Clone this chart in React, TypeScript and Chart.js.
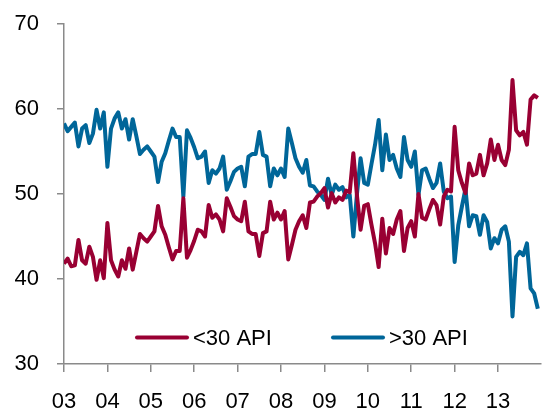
import { useEffect, useRef } from 'react';
import { Chart, registerables } from 'chart.js';

Chart.register(...registerables);

// Years covered (monthly observations, Jan 2003 - Dec 2013)
const years = [2003, 2004, 2005, 2006, 2007, 2008, 2009, 2010, 2011, 2012, 2013];
const tickLabels = ['03', '04', '05', '06', '07', '08', '09', '10', '11', '12', '13'];
const seriesNames = ['<30 API', '>30 API'];
const yTicks = [30, 40, 50, 60, 70];

// Share (%) of crude below 30 API, monthly
const below30API = [
  41.8, 42.4, 41.5, 41.6, 44.6, 42.2, 41.8, 43.8, 42.6, 39.9, 42.2, 40.1,
  46.6, 42.2, 41.1, 40.3, 42.2, 41.2, 43.6, 41.1, 43.2, 45.3, 44.8, 44.4,
  45.0, 45.6, 48.6, 46.2, 45.2, 43.7, 42.3, 43.3, 43.3, 49.5, 42.5, 43.4,
  44.5, 45.8, 45.6, 45.0, 48.7, 47.2, 47.6, 47.0, 45.6, 49.5, 48.5, 47.4,
  47.0, 46.8, 49.1, 45.6, 45.3, 45.3, 42.7, 45.4, 45.6, 49.1, 47.0, 47.8,
  47.0, 48.0, 42.3, 44.0, 45.8, 46.8, 47.5, 46.0, 49.0, 49.1, 49.7, 50.1,
  50.7, 48.4, 50.1, 49.0, 49.6, 49.3, 50.4, 50.2, 54.8, 49.8, 45.8, 48.6,
  48.8, 46.4, 44.2, 41.4, 47.1, 43.0, 46.0, 45.3, 47.0, 48.0, 43.3, 46.0,
  46.8, 45.0, 50.0, 47.2, 47.0, 48.2, 49.3, 48.7, 46.4, 49.7, 50.5, 50.3,
  57.9, 52.8, 51.3, 50.1, 53.6, 52.2, 52.4, 54.6, 52.2, 53.6, 56.4, 54.0,
  55.8, 54.0, 53.4, 55.2, 63.4, 57.5, 56.9, 57.3, 55.8, 61.1, 61.6, 61.3,
];

// Share (%) of crude above 30 API, monthly
const above30API = [
  58.3, 57.4, 57.9, 58.4, 55.6, 57.7, 58.1, 56.0, 57.1, 59.9, 57.7, 59.6,
  53.2, 57.7, 58.9, 59.6, 57.7, 58.8, 56.4, 58.8, 56.8, 54.7, 55.2, 55.6,
  55.0, 54.4, 51.4, 53.8, 54.8, 56.3, 57.7, 56.7, 56.7, 49.7, 57.5, 56.6,
  55.5, 54.2, 54.4, 55.0, 51.3, 52.8, 52.4, 53.0, 54.4, 50.5, 51.5, 52.6,
  53.0, 53.2, 50.9, 54.4, 54.7, 54.7, 57.3, 54.6, 54.4, 50.9, 53.0, 52.2,
  53.0, 52.0, 57.7, 56.0, 54.2, 53.2, 52.5, 54.0, 51.0, 50.9, 50.3, 49.9,
  49.3, 51.8, 49.9, 51.1, 50.5, 50.8, 49.6, 49.9, 45.0, 50.0, 54.2, 51.3,
  51.1, 53.5, 55.8, 58.7, 52.8, 57.0, 54.0, 54.6, 53.0, 52.0, 56.7, 54.0,
  53.2, 55.0, 49.9, 52.8, 53.0, 51.8, 50.7, 51.3, 53.6, 50.3, 49.5, 49.7,
  42.0, 46.3, 48.5, 50.6, 46.2, 47.5, 47.4, 45.2, 47.5, 46.7, 43.6, 44.8,
  44.2, 45.8, 46.2, 44.4, 35.6, 42.6, 43.2, 42.8, 44.2, 38.9, 38.3, 36.5,
];

const RED = '#990033';
const BLUE = '#006699';
const AXIS = '#8a8a8a';
const FONT = '"Liberation Sans", Arial, sans-serif';
const FONT_SIZE = 22;

const toPoints = (vals: number[]) =>
  vals.map((v, i) => ({ x: years[Math.floor(i / 12)] + (i % 12) / 12, y: v }));

const insideLegend = {
  id: 'insideLegend',
  afterDatasetsDraw(chart: any) {
    const { ctx, chartArea } = chart;
    const offsets = [73, 269];
    const y = chartArea.bottom - 26.5;
    chart.data.datasets.forEach((ds: any, k: number) => {
      const x0 = chartArea.left + offsets[k];
      ctx.save();
      ctx.strokeStyle = ds.borderColor;
      ctx.lineWidth = 4;
      ctx.lineCap = 'round';
      ctx.beginPath();
      ctx.moveTo(x0, y);
      ctx.lineTo(x0 + 50, y);
      ctx.stroke();
      ctx.fillStyle = '#000';
      ctx.font = `${FONT_SIZE}px ${FONT}`;
      ctx.textBaseline = 'middle';
      ctx.textAlign = 'left';
      ctx.fillText(ds.label, x0 + 56, y + 1.5);
      ctx.restore();
    });
  },
};

export default function App() {
  const ref = useRef<HTMLCanvasElement | null>(null);

  useEffect(() => {
    document.body.style.margin = '0';
    const canvas = ref.current;
    if (!canvas) return;
    const chart = new Chart(canvas, {
      type: 'line',
      data: {
        datasets: [
          {
            label: seriesNames[0],
            data: toPoints(below30API),
            borderColor: RED,
            backgroundColor: RED,
            borderWidth: 4,
            pointRadius: 0,
            tension: 0,
            borderJoinStyle: 'round',
          },
          {
            label: seriesNames[1],
            data: toPoints(above30API),
            borderColor: BLUE,
            backgroundColor: BLUE,
            borderWidth: 4,
            pointRadius: 0,
            tension: 0,
            borderJoinStyle: 'round',
          },
        ],
      },
      options: {
        responsive: false,
        animation: false,
        events: [],
        layout: { padding: { top: 24, right: 3, left: 0, bottom: 0 } },
        plugins: {
          legend: { display: false },
          tooltip: { enabled: false },
        },
        scales: {
          x: {
            type: 'linear',
            min: years[0],
            max: years[years.length - 1] + 0.99,
            afterFit: (s: any) => {
              s.height = 48;
              s.paddingLeft = 0;
              s.paddingRight = 0;
            },
            afterBuildTicks: (s: any) => {
              s.ticks = years.map((y) => ({ value: y }));
            },
            ticks: {
              autoSkip: false,
              maxRotation: 0,
              padding: 17,
              color: '#000',
              font: { family: FONT, size: FONT_SIZE },
              callback: (v: any) => {
                const idx = years.indexOf(Math.round(Number(v)));
                return idx >= 0 ? tickLabels[idx] : '';
              },
            },
            grid: {
              drawOnChartArea: false,
              drawTicks: true,
              tickLength: 8,
              color: AXIS,
              lineWidth: 1.5,
            },
            border: { display: true, color: AXIS, width: 1.5 },
          },
          y: {
            min: yTicks[0],
            max: yTicks[yTicks.length - 1],
            afterFit: (s: any) => {
              s.width = 64;
              s.paddingTop = 10;
              s.paddingBottom = 10;
            },
            afterBuildTicks: (s: any) => {
              s.ticks = yTicks.map((v) => ({ value: v }));
            },
            ticks: {
              padding: 18,
              color: '#000',
              font: { family: FONT, size: FONT_SIZE },
            },
            grid: {
              drawOnChartArea: false,
              drawTicks: true,
              tickLength: 7,
              color: AXIS,
              lineWidth: 1.5,
            },
            border: { display: true, color: AXIS, width: 1.5 },
          },
        },
      },
      plugins: [insideLegend],
    });
    return () => chart.destroy();
  }, []);

  return (
    <div style={{ width: 544, height: 412 }}>
      <canvas ref={ref} width={544} height={412} style={{ display: 'block' }} />
    </div>
  );
}
